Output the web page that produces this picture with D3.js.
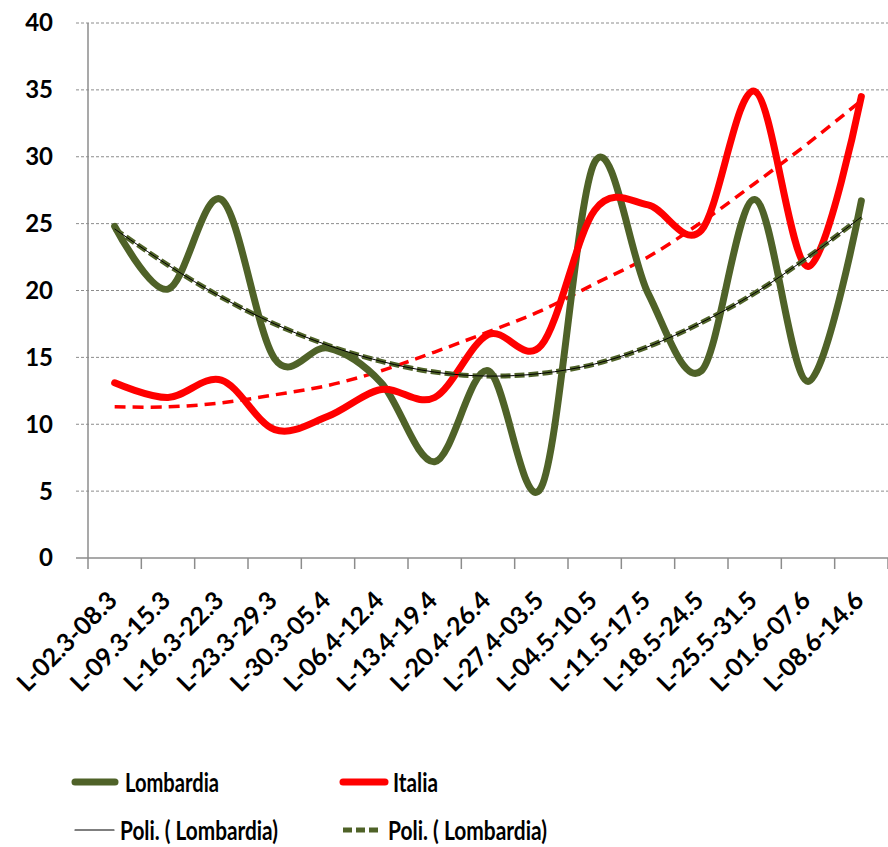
<!DOCTYPE html>
<html lang="it">
<head>
  <meta charset="UTF-8" />
  <title>Lombardia vs Italia</title>
  <script src="https://d3js.org/d3.v7.min.js"></script>
  <style>
    body { margin: 0; background: #fff; }
    svg { display: block; font-family: Lato, "Open Sans", sans-serif; font-weight: 700; }
  </style>
</head>
<body>
  <svg id="chart" width="888" height="847"></svg>

  <script>
    const categories = [
      "L-02.3-08.3", "L-09.3-15.3", "L-16.3-22.3", "L-23.3-29.3", "L-30.3-05.4",
      "L-06.4-12.4", "L-13.4-19.4", "L-20.4-26.4", "L-27.4-03.5", "L-04.5-10.5",
      "L-11.5-17.5", "L-18.5-24.5", "L-25.5-31.5", "L-01.6-07.6", "L-08.6-14.6"
    ];
    const lombardia = [24.8, 20.1, 26.8, 14.9, 15.7, 13.1, 7.2, 14.0, 5.3, 29.6, 19.8, 14.0, 26.8, 13.2, 26.7];
    const italia = [13.1, 12.0, 13.3, 9.6, 10.6, 12.6, 12.0, 16.7, 15.9, 26.0, 26.4, 24.5, 34.9, 21.8, 34.5];
    const trendLombardia = [24.6, 21.9, 19.5, 17.5, 15.9, 14.7, 13.9, 13.6, 13.8, 14.5, 15.8, 17.6, 19.8, 22.5, 25.5];
    const trendItalia = [11.3, 11.3, 11.6, 12.2, 12.9, 14.0, 15.4, 16.9, 18.5, 20.5, 22.5, 25.1, 28.0, 31.0, 34.2];
    const yTicks = [0, 5, 10, 15, 20, 25, 30, 35, 40];

    const svg = d3.select("#chart");
    const plotLeft = 88, plotRight = 888, plotTop = 23, plotBottom = 558;

    const x = d3.scaleBand().domain(categories).range([plotLeft, plotRight]);
    const y = d3.scaleLinear().domain([0, 40]).range([plotBottom, plotTop]);
    const cx = d => x(d) + x.bandwidth() / 2;

    // grid
    svg.append("g").selectAll("line")
      .data(yTicks.filter(t => t > 0))
      .join("line")
      .attr("x1", 76).attr("x2", plotRight)
      .attr("y1", d => y(d)).attr("y2", d => y(d))
      .attr("stroke", "#8c8c8c")
      .attr("stroke-width", 1)
      .attr("stroke-dasharray", "3,2");

    // axes
    svg.append("line")
      .attr("x1", plotLeft).attr("x2", plotLeft)
      .attr("y1", plotTop).attr("y2", plotBottom + 11)
      .attr("stroke", "#8c8c8c").attr("stroke-width", 1.5);
    svg.append("line")
      .attr("x1", 76).attr("x2", plotRight)
      .attr("y1", plotBottom).attr("y2", plotBottom)
      .attr("stroke", "#8c8c8c").attr("stroke-width", 1.5);

    svg.append("g").selectAll("line")
      .data(categories)
      .join("line")
      .attr("x1", d => x(d) + x.step())
      .attr("x2", d => x(d) + x.step())
      .attr("y1", plotBottom).attr("y2", plotBottom + 11)
      .attr("stroke", "#8c8c8c").attr("stroke-width", 1.5);

    svg.append("g").selectAll("text")
      .data(yTicks)
      .join("text")
      .attr("x", 53)
      .attr("y", d => y(d))
      .attr("dy", "0.35em")
      .attr("text-anchor", "end")
      .style("font-size", "24px")
      .text(d => d);

    svg.append("g").selectAll("text")
      .data(categories)
      .join("text")
      .attr("transform", d => `translate(${cx(d) + 4},${plotBottom + 44}) rotate(-45)`)
      .attr("text-anchor", "end")
      .style("font-size", "25px")
      .text(d => d);

    // series
    const line = d3.line()
      .x((d, i) => cx(categories[i]))
      .y(d => y(d))
      .curve(d3.curveCardinal.tension(0));

    svg.append("path").datum(trendItalia)
      .attr("d", line)
      .attr("fill", "none")
      .attr("stroke", "#ff0000")
      .attr("stroke-width", 3.5)
      .attr("stroke-dasharray", "11,7");

    svg.append("path").datum(lombardia)
      .attr("d", line)
      .attr("fill", "none")
      .attr("stroke", "#4f6228")
      .attr("stroke-width", 7)
      .attr("stroke-linecap", "round");

    svg.append("path").datum(italia)
      .attr("d", line)
      .attr("fill", "none")
      .attr("stroke", "#ff0000")
      .attr("stroke-width", 7)
      .attr("stroke-linecap", "round");

    svg.append("path").datum(trendLombardia)
      .attr("d", line)
      .attr("fill", "none")
      .attr("stroke", "#4f6228")
      .attr("stroke-width", 5)
      .attr("stroke-dasharray", "10,4");

    svg.append("path").datum(trendLombardia)
      .attr("d", line)
      .attr("fill", "none")
      .attr("stroke", "#000")
      .attr("stroke-width", 1);

    // legend
    const legendItems = [
      { label: "Lombardia", x: 75, y: 782, color: "#4f6228", width: 7, dash: null, len: 40, tx: 125, tl: 94 },
      { label: "Italia", x: 343, y: 782, color: "#ff0000", width: 7, dash: null, len: 42, tx: 393, tl: 45 },
      { label: "Poli. ( Lombardia)", x: 75, y: 830, color: "#000", width: 1.2, dash: null, len: 39, tx: 120, tl: 158 },
      { label: "Poli. ( Lombardia)", x: 343, y: 830, color: "#4f6228", width: 5, dash: "9,4", len: 38, tx: 388, tl: 159 }
    ];

    const lg = svg.append("g").selectAll("g").data(legendItems).join("g");
    lg.append("line")
      .attr("x1", d => d.x).attr("x2", d => d.x + d.len)
      .attr("y1", d => d.y).attr("y2", d => d.y)
      .attr("stroke", d => d.color)
      .attr("stroke-width", d => d.width)
      .attr("stroke-linecap", d => d.dash ? "butt" : "round")
      .attr("stroke-dasharray", d => d.dash);
    lg.append("text")
      .attr("x", d => d.tx)
      .attr("y", d => d.y)
      .attr("dy", "0.36em")
      .attr("textLength", d => d.tl)
      .attr("lengthAdjust", "spacingAndGlyphs")
      .style("font-size", "27px")
      .text(d => d.label);
  </script>
</body>
</html>
